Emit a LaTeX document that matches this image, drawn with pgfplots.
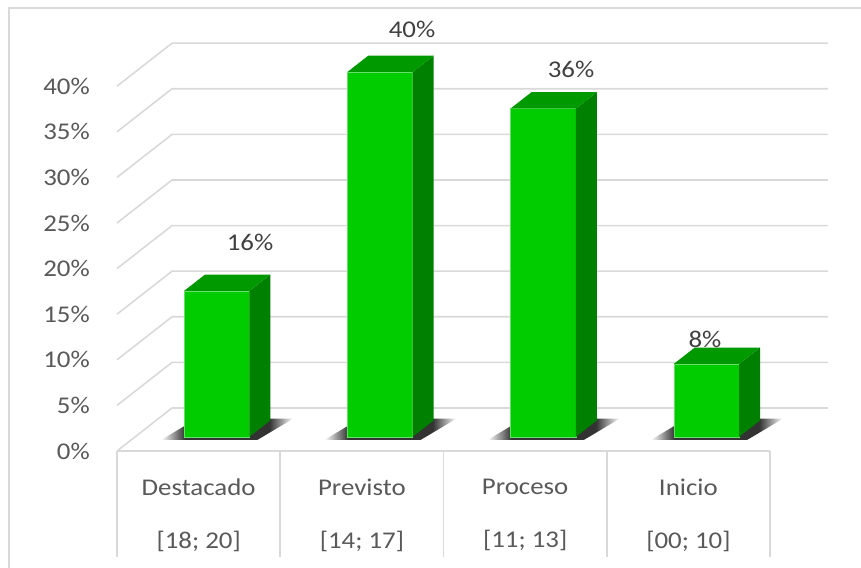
\documentclass[border=0pt]{standalone}
\usepackage{pgfplots}
\pgfplotsset{compat=1.18}
\usepackage{pgfplotstable}
\usepackage{fontspec}
\setmainfont{Carlito}[FakeStretch=1.12]
\definecolor{gridc}{HTML}{D9D9D9}
\definecolor{txt}{HTML}{595959}
\definecolor{lbl}{HTML}{404040}
\definecolor{gfront}{HTML}{00CC00}
\definecolor{gside}{HTML}{008000}
\definecolor{gtop}{HTML}{009900}
\pgfdeclarehorizontalshading{barshadow}{100bp}{color(0bp)=(white); color(25bp)=(white); color(34bp)=(black!80); color(66bp)=(black!80); color(75bp)=(white); color(100bp)=(white)}

\pgfplotstableread{
idx v lx ly
0 16 0.315 6.9
1 40 0.307 6.2
2 36 0.281 5.8
3 8 0.102 4.2
}\datatable

\begin{document}
\begin{tikzpicture}[font=\fontsize{24}{28.8}\selectfont]
\begin{axis}[
  at={(0,0)}, anchor=south west,
  scale only axis, width=710.95pt, height=407.76pt,
  xmin=-0.5, xmax=3.855, ymin=0, ymax=44.71,
  clip=false,
  axis line style={draw=none},
  major tick length=0pt,
  xtick={0,1,2,3},
  xticklabels={{Destacado\\[24pt]{[18; 20]}},{Previsto\\[24pt]{[14; 17]}},{Proceso\\[24pt]{[11; 13]}},{Inicio\\[24pt]{[00; 10]}}},
  xticklabel style={align=center, text=txt, inner sep=0pt, yshift=-28pt},
  ytick={0,5,...,40},
  yticklabel={\pgfmathprintnumber{\tick}\%},
  yticklabel style={text=txt, inner sep=0pt, xshift=-27pt},
  /pgf/number format/assume math mode=true,
  tick label style={font=\fontsize{24}{28.8}\selectfont},
]
% back wall and left wall gridlines
\pgfplotsinvokeforeach{0,5,...,40}{
  \draw[gridc, line width=1.6pt] (axis cs:-0.5,#1) -- (axis cs:-0.1631,{#1+4.715}) -- (axis cs:3.855,{#1+4.715});
}
% category boxes
\draw[gridc, line width=1.6pt] (axis cs:-0.5,0) -- (axis cs:3.5,0);
\pgfplotsinvokeforeach{-0.5,0.5,1.5,2.5,3.5}{
  \draw[gridc, line width=1.6pt] (axis cs:#1,0) -- (axis cs:#1,-11.62);
}
% bars
\pgfplotsforeachungrouped \i in {0,1,2,3}{
  \pgfplotstablegetelem{\i}{v}\of\datatable
  \pgfmathsetmacro\yA{0.33*4.715}
  \pgfmathsetmacro\yB{\yA+\pgfplotsretval}
  \pgfmathsetmacro\xA{\i+0.33*0.3369-0.2}
  \pgfmathsetmacro\xB{\xA+0.4}
  \pgfmathsetmacro\ddx{0.38*0.3369}
  \pgfmathsetmacro\ddy{0.38*4.715}
  \pgfmathsetmacro\xC{\xB+\ddx}
  \pgfmathsetmacro\xD{\xA+\ddx}
  \pgfmathsetmacro\yC{\yA+\ddy}
  \pgfmathsetmacro\yD{\yB+\ddy}
  \pgfmathsetmacro\xSa{\xA-0.14}
  \pgfmathsetmacro\xSb{\xB+0.05}
  \pgfmathsetmacro\xSc{\xC+0.14}
  \pgfmathsetmacro\xSd{\xD-0.05}
  \pgfmathsetmacro\ySa{\yA-0.33}
  \pgfmathsetmacro\ySc{\yC+0.2}
  \edef\temp{%
    \noexpand\shade[shading=barshadow] (axis cs:\xSa,\ySa) -- (axis cs:\xSb,\ySa) -- (axis cs:\xSc,\ySc) -- (axis cs:\xSd,\ySc) -- cycle;
    \noexpand\addplot[fill=gfront, draw=gfront!60!white, line width=0.6pt] coordinates {(\xA,\yA) (\xB,\yA) (\xB,\yB) (\xA,\yB)} -- cycle;
    \noexpand\addplot[fill=gside, draw=none] coordinates {(\xB,\yA) (\xC,\yC) (\xC,\yD) (\xB,\yB)} -- cycle;
    \noexpand\addplot[fill=gtop, draw=none] coordinates {(\xA,\yB) (\xB,\yB) (\xC,\yD) (\xD,\yD)} -- cycle;
  }%
  \temp
}
% data labels
\addplot[draw=none, mark=none, point meta=explicit,
  nodes near coords={\pgfmathprintnumber{\pgfplotspointmeta}\%},
  every node near coord/.append style={anchor=center, text=lbl, inner sep=0pt, font=\fontsize{24}{28.8}\selectfont}]
  table[x expr=\thisrow{idx}+\thisrow{lx}, y expr=\thisrow{v}+\thisrow{ly}, meta=v] {\datatable};
\end{axis}
\draw[gridc, line width=1.6pt] (-108pt,-130pt) -- (-108pt,443pt) -- (760pt,443pt);
\pgfresetboundingbox
\path[use as bounding box] (-117pt,-116pt) rectangle (744pt,451pt);
\end{tikzpicture}
\end{document}
